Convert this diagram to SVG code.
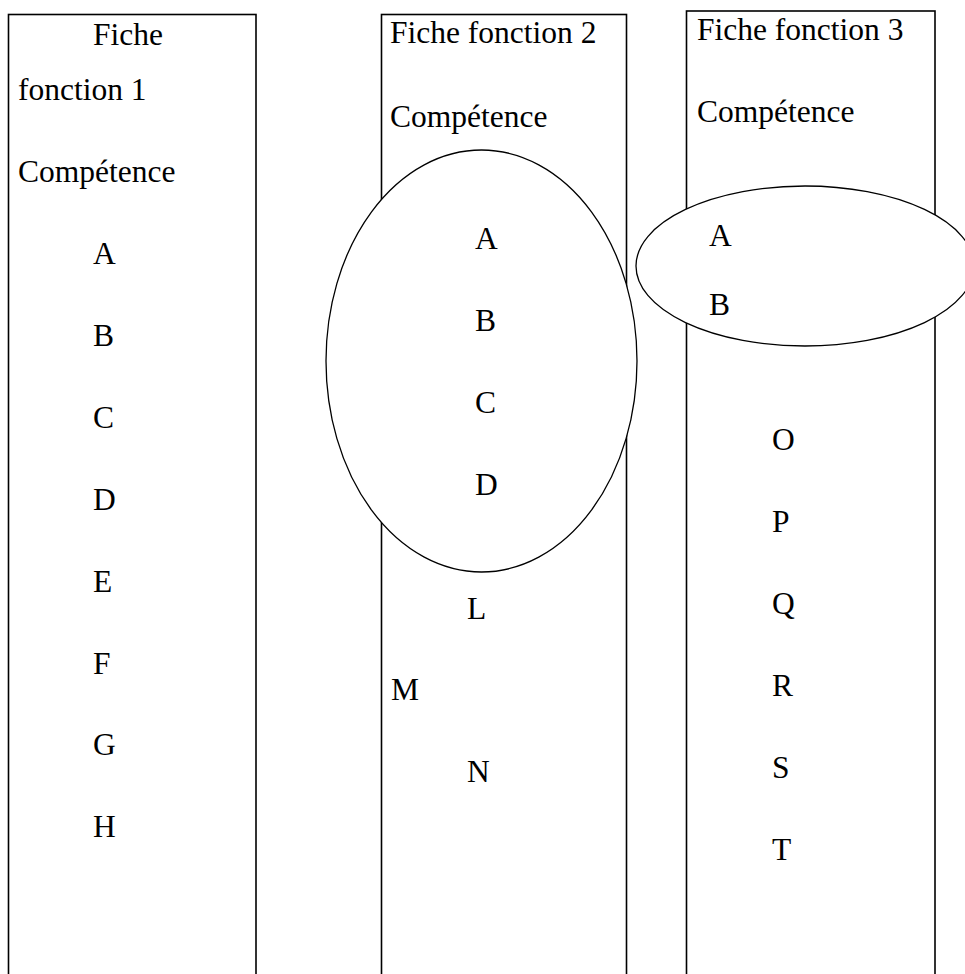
<svg xmlns="http://www.w3.org/2000/svg" width="965" height="974" viewBox="0 0 965 974">
<style>
.box{fill:#fff;stroke:#000;stroke-width:1.6}
.ell{fill:#fff;stroke:#000;stroke-width:1.3}
text{font-family:"Liberation Serif","Times New Roman",serif;font-size:31.5px;fill:#000}
</style>
<rect width="965" height="974" fill="#fff"/>
<g id="fiche1">
<rect class="box" x="8.5" y="14.5" width="247.5" height="980"/>
<text x="93" y="45">Fiche</text>
<text x="18" y="100">fonction 1</text>
<text x="18" y="182">Compétence</text>
<text x="93" y="264">A</text>
<text x="93" y="346">B</text>
<text x="93" y="428">C</text>
<text x="93" y="510">D</text>
<text x="93" y="592">E</text>
<text x="93" y="674">F</text>
<text x="93" y="755">G</text>
<text x="93" y="837">H</text>
</g>
<g id="fiche2">
<rect class="box" x="381.5" y="14.5" width="245" height="980"/>
<text x="390" y="43">Fiche fonction 2</text>
<text x="390" y="127">Compétence</text>
<ellipse class="ell" cx="481.5" cy="361" rx="155.5" ry="211"/>
<text x="475" y="249">A</text>
<text x="475" y="331">B</text>
<text x="475" y="413">C</text>
<text x="475" y="495">D</text>
<text x="467" y="619">L</text>
<text x="391" y="700">M</text>
<text x="467" y="782">N</text>
</g>
<g id="fiche3">
<rect class="box" x="686.5" y="11" width="248.5" height="980"/>
<text x="697" y="40">Fiche fonction 3</text>
<text x="697" y="122">Compétence</text>
<ellipse class="ell" cx="805" cy="266" rx="169" ry="80"/>
<text x="709" y="246">A</text>
<text x="709" y="315">B</text>
<text x="772" y="450">O</text>
<text x="772" y="532">P</text>
<text x="772" y="614">Q</text>
<text x="772" y="696">R</text>
<text x="772" y="778">S</text>
<text x="772" y="860">T</text>
</g>
<g id="connectors"/>
</svg>
